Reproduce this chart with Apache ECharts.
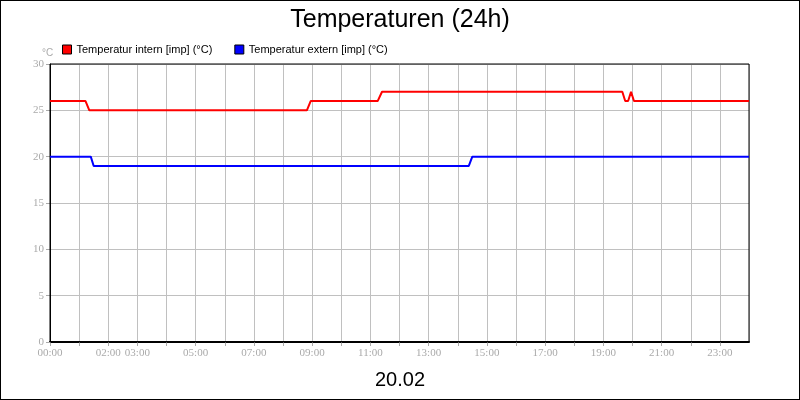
<!DOCTYPE html><html><head><meta charset="utf-8"><script src="https://cdn.jsdelivr.net/npm/echarts@6/dist/echarts.min.js"></script>
<style>html,body{margin:0;padding:0}#c{width:798px;height:398px;border:1px solid #000}</style></head><body><div id="c"></div><script>
const tickLabels = {0:'00:00',2:'02:00',3:'03:00',5:'05:00',7:'07:00',9:'09:00',11:'11:00',13:'13:00',15:'15:00',17:'17:00',19:'19:00',21:'21:00',23:'23:00'};
const internHours = [0,1.22,1.35,8.82,8.95,11.25,11.4,19.65,19.75,19.85,19.95,20.05,24];
const internTemps = [26,26,25,25,26,26,27,27,26,26,27,26,26];
const externHours = [0,1.4,1.5,14.38,14.5,24];
const externTemps = [20,20,19,19,20,20];
const pair=(h,v)=>h.map((x,i)=>[x,v[i]]);
const gray='#aaa';
const chart=echarts.init(document.getElementById('c'));
chart.setOption({
animation:false,
title:[{text:'Temperaturen (24h)',left:'center',top:2,textStyle:{fontFamily:'Liberation Sans',fontWeight:'normal',fontSize:25,color:'#000'}},
{text:'20.02',left:'center',top:364,textStyle:{fontFamily:'Liberation Sans',fontWeight:'normal',fontSize:20,color:'#000'}},
{text:'°C',left:36,top:42,textStyle:{fontFamily:'Liberation Sans',fontWeight:'normal',fontSize:10,color:gray}}],
legend:{left:56,top:38,itemWidth:9,itemHeight:9,itemGap:22,icon:'rect',textStyle:{fontFamily:'Liberation Sans',fontSize:11,color:'#000'},
data:[{name:'Temperatur intern [imp] (°C)',itemStyle:{color:'#f00',borderColor:'#000',borderWidth:1}},{name:'Temperatur extern [imp] (°C)',itemStyle:{color:'#00f',borderColor:'#000',borderWidth:1}}]},
grid:{left:49,right:50,top:63,bottom:57,show:true,borderColor:'#000',borderWidth:1,z:3},
xAxis:{type:'value',min:0,max:24,interval:1,axisLine:{show:true,onZero:false,lineStyle:{color:'#000',width:2}},axisTick:{show:true,length:4,lineStyle:{color:gray}},
splitLine:{show:true,lineStyle:{color:'#c0c0c0'}},
axisLabel:{color:gray,fontFamily:'Liberation Sans Narrow',fontSize:11,margin:6,showMaxLabel:false,formatter:v=>tickLabels[v]||''}},
yAxis:{type:'value',min:0,max:30,interval:5,axisLine:{show:true,lineStyle:{color:'#000'}},axisTick:{show:true,length:4,lineStyle:{color:gray}},
splitLine:{show:true,lineStyle:{color:'#c0c0c0'}},axisLabel:{color:gray,fontFamily:'Liberation Sans Narrow',fontSize:11,margin:6}},
series:[{name:'Temperatur intern [imp] (°C)',type:'line',data:pair(internHours,internTemps),showSymbol:false,color:'#f00',lineStyle:{width:2}},
{name:'Temperatur extern [imp] (°C)',type:'line',data:pair(externHours,externTemps),showSymbol:false,color:'#00f',lineStyle:{width:2}}]
});
</script></body></html>
